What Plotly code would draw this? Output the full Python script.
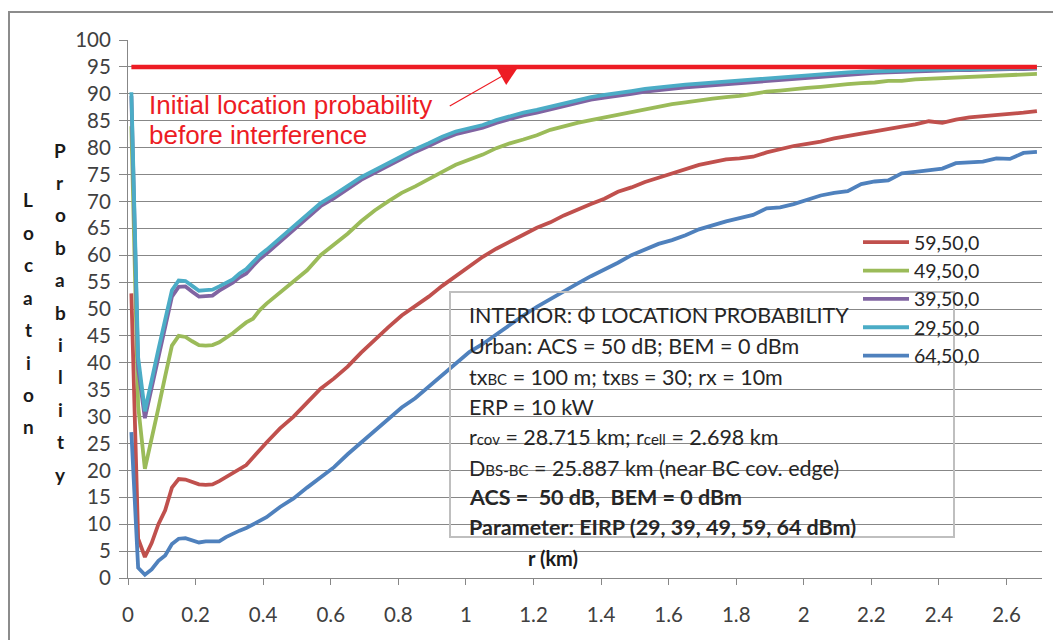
import plotly.graph_objects as go

# Distance from the cell centre (km)
r_km = [0.01, 0.03, 0.05, 0.07, 0.09, 0.11, 0.13, 0.15, 0.17, 0.19, 0.21, 0.23, 0.25,
        0.27, 0.29, 0.31, 0.33, 0.35, 0.37, 0.39, 0.41, 0.45, 0.49, 0.53, 0.57, 0.61,
        0.65, 0.69, 0.73, 0.77, 0.81, 0.85, 0.89, 0.93, 0.97, 1.01, 1.05, 1.09, 1.13,
        1.17, 1.21, 1.25, 1.29, 1.33, 1.37, 1.41, 1.45, 1.49, 1.53, 1.57, 1.61, 1.65,
        1.69, 1.73, 1.77, 1.81, 1.85, 1.89, 1.93, 1.97, 2.01, 2.05, 2.09, 2.13, 2.17,
        2.21, 2.25, 2.29, 2.33, 2.37, 2.41, 2.45, 2.49, 2.53, 2.57, 2.61, 2.65, 2.69]

# Location probability (%) per EIRP setting
lp_59 = [52.9, 7.3, 3.9, 6.5, 10.0, 12.6, 16.8, 18.4, 18.3, 17.8, 17.4, 17.3, 17.4,
         18.0, 18.7, 19.4, 20.3, 21.0, 22.4, 23.9, 25.2, 27.8, 30.0, 32.6, 35.2, 37.1,
         39.3, 41.9, 44.3, 46.6, 48.8, 50.5, 52.3, 54.3, 56.1, 57.8, 59.7, 61.2, 62.6,
         63.8, 65.1, 66.1, 67.4, 68.5, 69.5, 70.5, 71.8, 72.6, 73.6, 74.4, 75.2, 76.0,
         76.8, 77.3, 77.8, 78.0, 78.3, 79.1, 79.7, 80.3, 80.7, 81.1, 81.7, 82.2, 82.6,
         83.0, 83.5, 83.9, 84.3, 84.9, 84.6, 85.2, 85.6, 85.8, 86.1, 86.3, 86.5, 86.8]
lp_49 = [84.0, 32.0, 20.3, 25.7, 31.6, 37.5, 43.2, 45.0, 44.8, 44.0, 43.3, 43.2, 43.3,
         43.8, 44.6, 45.5, 46.5, 47.5, 48.2, 49.8, 51.0, 53.0, 55.2, 57.2, 60.0, 62.0,
         64.0, 66.3, 68.3, 70.0, 71.6, 72.8, 74.2, 75.5, 76.8, 77.8, 78.7, 79.9, 80.8,
         81.5, 82.3, 83.3, 84.0, 84.6, 85.1, 85.6, 86.2, 86.7, 87.1, 87.6, 88.1, 88.4,
         88.8, 89.1, 89.4, 89.6, 90.0, 90.4, 90.6, 90.9, 91.1, 91.3, 91.6, 91.8, 92.0,
         92.1, 92.4, 92.4, 92.7, 92.8, 92.9, 93.0, 93.1, 93.3, 93.4, 93.4, 93.5, 93.7]
lp_39 = [89.6, 39.0, 29.7, 35.5, 41.0, 46.7, 52.3, 54.1, 54.2, 53.2, 52.3, 52.4, 52.5,
         53.4, 54.1, 54.9, 55.9, 56.6, 58.0, 59.3, 60.3, 62.5, 64.5, 66.8, 69.1, 70.6,
         72.3, 74.0, 75.3, 76.6, 77.9, 79.2, 80.3, 81.5, 82.5, 83.1, 83.7, 84.6, 85.3,
         86.0, 86.5, 87.1, 87.7, 88.4, 88.9, 89.3, 89.6, 90.0, 90.4, 90.7, 90.9, 91.2,
         91.4, 91.6, 91.8, 91.9, 92.1, 92.4, 92.6, 92.8, 93.0, 93.2, 93.4, 93.6, 93.8,
         93.9, 94.0, 94.1, 94.2, 94.3, 94.3, 94.4, 94.4, 94.5, 94.5, 94.6, 94.6, 94.7]
lp_29 = [90.3, 41.0, 31.0, 37.0, 42.5, 48.0, 53.5, 55.3, 55.2, 54.3, 53.4, 53.5, 53.6,
         54.2, 54.8, 55.5, 56.6, 57.4, 58.7, 60.0, 61.0, 63.2, 65.2, 67.4, 69.7, 71.2,
         72.9, 74.5, 75.8, 77.1, 78.4, 79.7, 80.8, 82.0, 83.0, 83.6, 84.2, 85.1, 85.8,
         86.5, 87.0, 87.6, 88.2, 88.9, 89.4, 89.8, 90.1, 90.5, 90.9, 91.2, 91.4, 91.7,
         91.9, 92.1, 92.3, 92.5, 92.6, 92.9, 93.1, 93.3, 93.5, 93.7, 93.9, 94.0, 94.1,
         94.2, 94.3, 94.4, 94.4, 94.5, 94.5, 94.5, 94.6, 94.6, 94.7, 94.7, 94.7, 94.8]
lp_64 = [27.1, 1.9, 0.6, 1.6, 3.2, 4.2, 6.3, 7.3, 7.4, 7.0, 6.6, 6.8, 6.8,
         6.8, 7.6, 8.3, 8.8, 9.3, 10.0, 10.6, 11.3, 13.2, 14.8, 16.8, 18.7, 20.6,
         23.0, 25.2, 27.5, 29.5, 31.7, 33.4, 35.5, 37.8, 39.8, 42.0, 43.5, 45.3, 47.2,
         48.8, 50.4, 51.9, 53.2, 54.7, 56.1, 57.3, 58.6, 60.0, 61.0, 62.1, 62.8, 63.7,
         64.8, 65.6, 66.3, 66.9, 67.5, 68.7, 68.9, 69.5, 70.3, 71.1, 71.6, 71.9, 73.2,
         73.7, 73.9, 75.2, 75.5, 75.8, 76.1, 77.1, 77.2, 77.4, 78.0, 77.9, 79.0, 79.2]

series_names = ["59,50,0", "49,50,0", "39,50,0", "29,50,0", "64,50,0"]
series_values = [lp_59, lp_49, lp_39, lp_29, lp_64]
series_colors = ["#C0504D", "#9BBB59", "#8064A2", "#4BACC6", "#4F81BD"]

initial_lp = 95  # location probability before interference

x_ticks = [0, 0.2, 0.4, 0.6, 0.8, 1, 1.2, 1.4, 1.6, 1.8, 2, 2.2, 2.4, 2.6]
x_tick_text = ["0", "0.2", "0.4", "0.6", "0.8", "1", "1.2", "1.4", "1.6", "1.8",
               "2", "2.2", "2.4", "2.6"]
y_ticks = list(range(0, 101, 5))

SUB = "<span style='font-size:15px'>%s</span>"
info_lines = [
    "INTERIOR: Φ LOCATION PROBABILITY",
    "Urban: ACS = 50 dB; BEM = 0 dBm",
    "tx" + SUB % "BC" + " = 100 m; tx" + SUB % "BS" + " = 30; rx = 10m",
    "ERP = 10 kW",
    "r" + SUB % "cov" + " = 28.715 km; r" + SUB % "cell" + " = 2.698 km",
    "D" + SUB % "BS-BC" + " = 25.887 km (near BC cov. edge)",
    "<b>ACS =  50 dB,  BEM = 0 dBm</b>",
    "<b>Parameter: EIRP (29, 39, 49, 59, 64 dBm)</b>",
]

FONT = "Lato"
GRID = "#878787"
W, H = 1053, 640
ML, MR, MT, MB = 128, 11, 40, 62
PW, PH = W - ML - MR, H - MT - MB


def px(x):
    return (x - ML) / PW


def py(y):
    return (H - MB - y) / PH


fig = go.Figure()
for name, vals, color in zip(series_names, series_values, series_colors):
    fig.add_trace(go.Scatter(x=r_km, y=vals, name=name, mode="lines",
                             line=dict(color=color, width=3.8)))

fig.add_trace(go.Scatter(x=[r_km[0], r_km[-1]], y=[initial_lp, initial_lp],
                         mode="lines", showlegend=False, hoverinfo="skip",
                         line=dict(color="#ED1C24", width=4.5)))

annotations = []
# red note with arrow to the reference line
annotations.append(dict(xref="paper", yref="paper", x=px(147), y=py(105),
                        xanchor="left", yanchor="middle", showarrow=False,
                        text="Initial location probability",
                        font=dict(family="Liberation Sans", size=26, color="#ED1C24")))
annotations.append(dict(xref="paper", yref="paper", x=px(147), y=py(135),
                        xanchor="left", yanchor="middle", showarrow=False,
                        text="before interference",
                        font=dict(family="Liberation Sans", size=26, color="#ED1C24")))
annotations.append(dict(x=1.155, y=initial_lp, xref="x", yref="y", text="",
                        showarrow=True, ax=-70, ay=40, arrowhead=2, arrowsize=3,
                        arrowwidth=1.3, arrowcolor="#ED1C24"))

# parameter box text
line_y = [315, 346, 377, 407, 437, 468, 497, 527]
for txt, yy in zip(info_lines, line_y):
    annotations.append(dict(xref="paper", yref="paper", x=px(467), y=py(yy),
                            xanchor="left", yanchor="middle", showarrow=False,
                            text=txt, font=dict(family=FONT, size=21.5, color="#262626")))

# stacked y-axis title letters
for col_x, word, y0 in [(28, "Location", 200), (60, "Probability", 150)]:
    for i, ch in enumerate(word):
        annotations.append(dict(xref="paper", yref="paper", x=px(col_x), y=py(y0 + i * 32.4),
                                xanchor="center", yanchor="middle", showarrow=False,
                                text="<b>%s</b>" % ch,
                                font=dict(family=FONT, size=19, color="#1a1a1a")))

annotations.append(dict(xref="paper", yref="paper", x=px(553), y=py(558),
                        xanchor="center", yanchor="middle", showarrow=False,
                        text="<b>r (km)</b>", font=dict(family=FONT, size=20, color="#1a1a1a")))

shapes = [
    dict(type="rect", xref="paper", yref="paper", x0=px(450), x1=px(954),
         y0=py(537), y1=py(292), line=dict(color="#BFBFBF", width=2)),
    dict(type="rect", xref="paper", yref="paper", x0=px(9), x1=px(1070),
         y0=py(660), y1=py(12), line=dict(color="#8C8C8C", width=2)),
]

fig.update_layout(
    width=W, height=H,
    margin=dict(l=ML, r=MR, t=MT, b=MB),
    paper_bgcolor="white", plot_bgcolor="white",
    font=dict(family=FONT, size=20, color="#404040"),
    showlegend=True,
    legend=dict(x=px(858), y=py(223), xanchor="left", yanchor="top",
                bgcolor="rgba(0,0,0,0)", font=dict(family=FONT, size=19.5, color="#262626"),
                itemwidth=46, tracegroupgap=0),
    annotations=annotations,
    shapes=shapes,
    xaxis=dict(range=[0, 2.705], tickvals=x_ticks, ticktext=x_tick_text,
               showgrid=False, zeroline=False, showline=True, linecolor=GRID,
               linewidth=1, ticks="outside", ticklen=6, tickcolor=GRID,
               ticklabelstandoff=12, tickfont=dict(size=20.5, color="#404040")),
    yaxis=dict(range=[0, 100], tickvals=y_ticks, showgrid=True, gridcolor=GRID,
               gridwidth=1, zeroline=False, showline=True, linecolor=GRID,
               linewidth=1, ticks="outside", ticklen=8, tickcolor=GRID,
               ticklabelstandoff=4, tickfont=dict(size=20.5, color="#404040")),
)

fig.write_html("out.html")
